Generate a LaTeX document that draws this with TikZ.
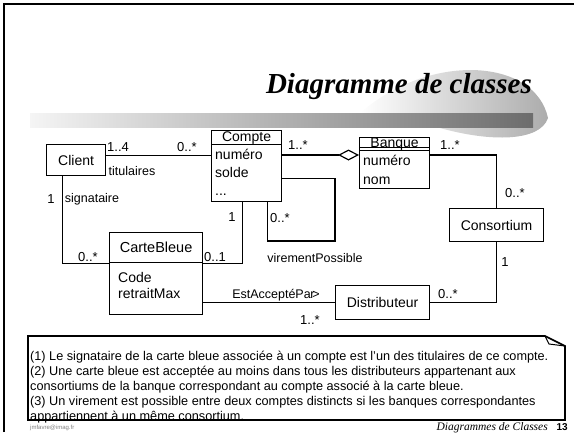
\documentclass[tikz,border=0pt]{standalone}
\usepackage{fontspec}
\setmainfont{Liberation Sans}
\newfontfamily\seriffont{Liberation Serif}
\usetikzlibrary{arrows.meta,positioning,calc}
\tikzset{
  cls/.style={draw,line width=1.2pt,inner sep=0pt,anchor=north west,font=\fontsize{14}{14}\selectfont},
  attr/.style={align=left,inner sep=0pt,anchor=north west,font=\fontsize{14}{18}\selectfont},
  mult/.style={inner sep=0pt,font=\fontsize{13}{13}\selectfont},
  role/.style={inner sep=0pt,font=\fontsize{12.5}{12.5}\selectfont},
  assoc/.style={line width=1.2pt}
}
\begin{document}
\begin{tikzpicture}[x=1pt,y=-1pt]
\useasboundingbox (0,0) rectangle (574,432);
\draw[line width=1.5pt] (4,432) -- (4,4) -- (574,4);
\shade[left color=white,right color=gray!65] (360,113) .. controls (430,52) and (535,58) .. (548,118) .. controls (540,142) and (490,142) .. (440,128) -- cycle;
\shade[left color=gray!8,middle color=gray!30,right color=gray!85!black] (30,113) rectangle (533,127);
\node[anchor=base east,inner sep=0pt,font=\seriffont\bfseries\itshape\fontsize{29}{29}\selectfont] (title) at (532,93) {Diagramme de classes};

\node[cls,minimum width=59,minimum height=31] (client) at (46,144) {Client};
\node[cls,minimum width=70,minimum height=14] (compteH) at (211,130) {Compte};
\node[cls,minimum width=70,minimum height=57] (compteB) at (211,144) {};
\node[attr] (compteA) at ($(compteB.north west)+(4,5)$) {numéro\\solde\\...};
\node[cls,minimum width=70,minimum height=10] (banqueH) at (359,137) {Banque};
\node[cls,minimum width=70,minimum height=41] (banqueB) at (359,147) {};
\node[attr,font=\fontsize{14}{19}\selectfont] (banqueA) at ($(banqueB.north west)+(4,8)$) {numéro\\nom};
\node[cls,minimum width=93,minimum height=30,font=\fontsize{14.5}{14.5}\selectfont] (carteH) at (109,232) {CarteBleue};
\node[cls,minimum width=93,minimum height=52] (carteB) at (109,262) {};
\node[attr,font=\fontsize{14}{16}\selectfont] (carteA) at ($(carteB.north west)+(9,10)$) {Code\\retraitMax};
\node[cls,minimum width=94,minimum height=33] (consortium) at (449,208) {Consortium};
\node[cls,minimum width=94,minimum height=34] (distrib) at (335,285) {Distributeur};

\coordinate (agg) at ($(banqueB.north west)+(0,8)$);
\coordinate (vp) at (335,241);
\draw[assoc] ([yshift=4.5pt]client.east) -- ([yshift=4.5pt]client.east -| compteB.west);
\draw[assoc,-{Diamond[open,length=21pt,width=11pt]}] (agg -| compteB.east) -- (agg);
\draw[assoc] (agg -| banqueB.east) -| (consortium.north);
\draw[assoc] (consortium.south) |- (distrib.east);
\draw[assoc] (distrib.west) -- (distrib.west -| carteB.east);
\draw[assoc] ([xshift=-14pt]client.south) |- (carteH.south west);
\draw[assoc] ([xshift=-4pt]compteB.south) |- (carteH.south east);
\draw[assoc] ([yshift=-5.5pt]compteB.east) -| (vp) -| ([xshift=21pt]compteB.south);

\node[mult] (m1) at (118,147) {1..4};
\node[mult] (m2) at (187,147) {0..*};
\node[role] (r1) at (132,171) {titulaires};
\node[mult] (m3) at (298,145) {1..*};
\node[mult] (m4) at (450,145) {1..*};
\node[mult] (m5) at (515,193) {0..*};
\node[mult] (m6) at (505,262) {1};
\node[mult] (m7) at (448,294) {0..*};
\node[role] (r2) at (276,295) {EstAcceptéPa\kern-.5pt r\kern-2pt>};
\node[mult] (m8) at (310,320) {1..*};
\node[mult] (m9) at (51,199) {1};
\node[role] (r3) at (92,199) {signataire};
\node[mult] (m10) at (88,257) {0..*};
\node[mult] (m11) at (232,217) {1};
\node[mult] (m12) at (215,257) {0..1};
\node[mult] (m13) at (280,218) {0..*};
\node[role] (r4) at (315,258) {virementPossible};

\node[anchor=base west,inner sep=0pt,text=gray,font=\fontsize{6}{6}\selectfont] (mail) at (30,429.5) {jmfavre@imag.fr};
\node[anchor=north west,inner sep=0pt,align=left,font=\fontsize{12.7}{15}\selectfont] (note) at (30,351) {(1) Le signataire de la carte bleue associée à un compte est l’un des titulaires de ce compte.\\(2) Une carte bleue est acceptée au moins dans tous les distributeurs appartenant aux\\consortiums de la banque correspondant au compte associé à la carte bleue.\\(3) Un virement est possible entre deux comptes distincts si les banques correspondantes\\appartiennent à un même consortium.};
\draw[line width=1.6pt] (28,336) -- (545,336) -- (565,346) -- (565,420) -- (28,420) -- cycle;
\draw[line width=1pt] (545,336) -- (549,344) -- (565,346);
\node[anchor=base east,inner sep=0pt,font=\seriffont\itshape\fontsize{11.5}{11.5}\selectfont] (foot) at (548,430) {Diagrammes de Classes};
\node[anchor=base east,inner sep=0pt,font=\bfseries\fontsize{10}{10}\selectfont] (page) at (568,430) {13};
\end{tikzpicture}
\end{document}
